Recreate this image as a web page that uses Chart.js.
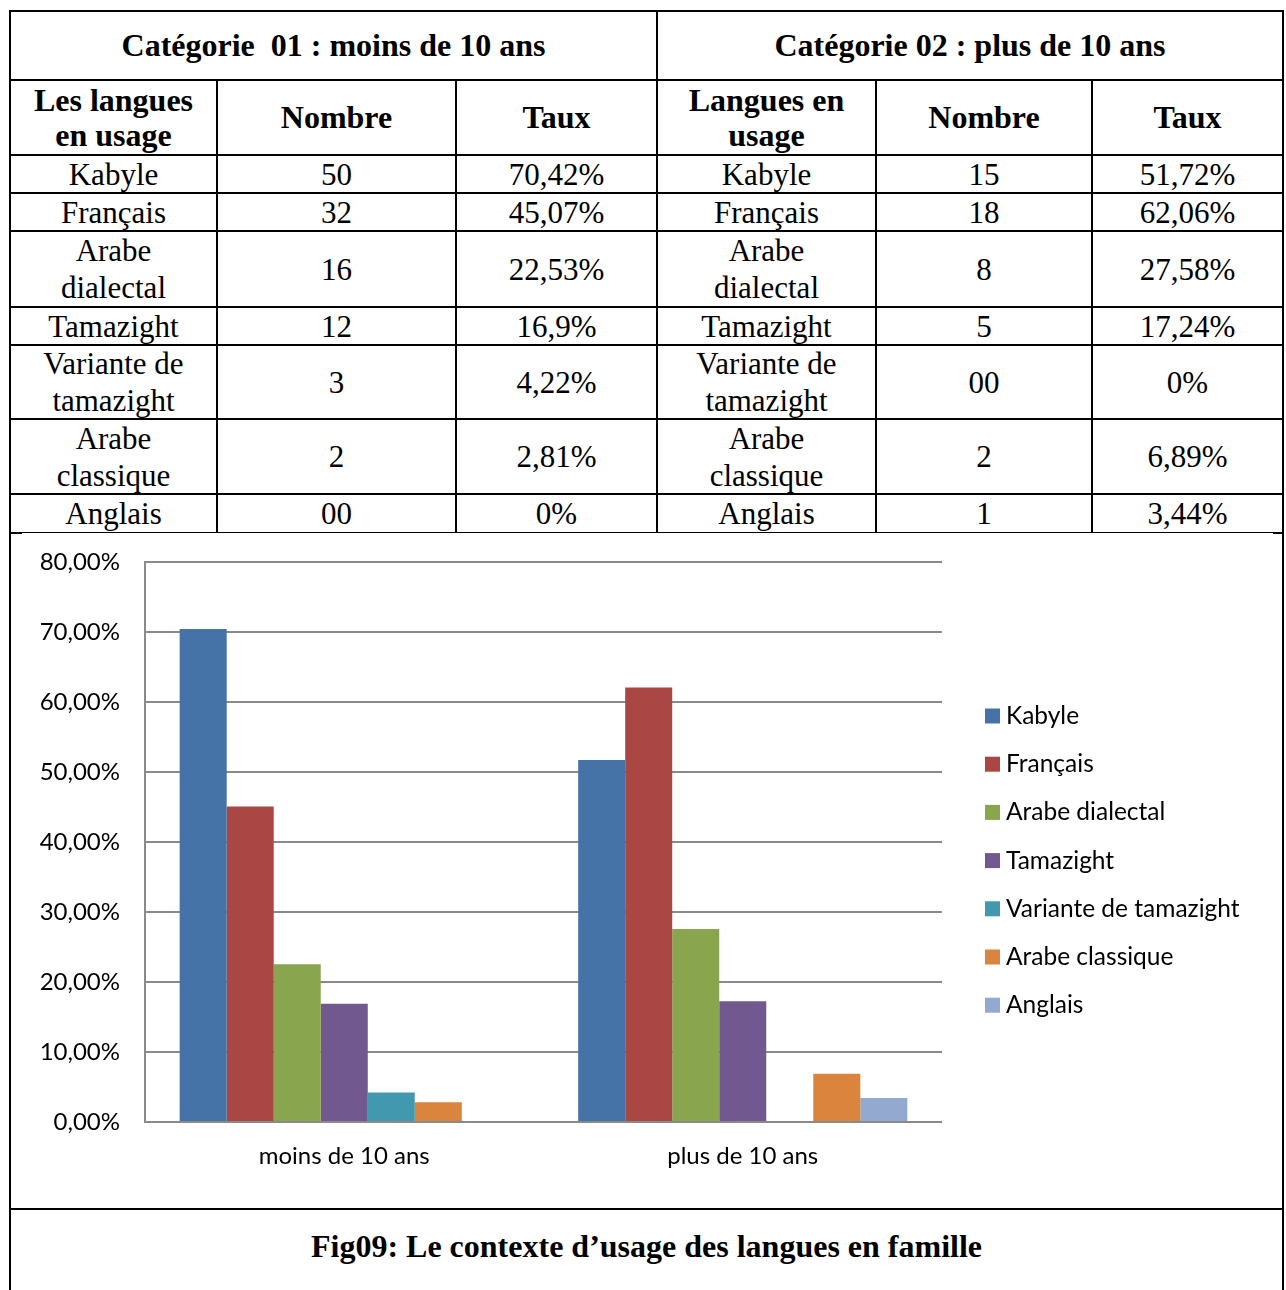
<!DOCTYPE html>
<html lang="fr">
<head>
<meta charset="utf-8">
<title>Fig09: Le contexte d’usage des langues en famille</title>
<script src="https://cdn.jsdelivr.net/npm/chart.js@4/dist/chart.umd.min.js"></script>
<style>
  html, body { margin: 0; padding: 0; background: #fff; }
  body { width: 1286px; height: 1290px; position: relative; overflow: hidden; }
  .ligne { position: absolute; background: #000; }
  .cellule {
    position: absolute; display: flex; align-items: center; justify-content: center;
    text-align: center; font-family: "Liberation Serif", "Times New Roman", serif;
    font-size: 31px; line-height: 37px; color: #000; white-space: pre-wrap;
  }
  .gras { font-weight: bold; font-size: 32px; line-height: 35px; }
  #graphique { position: absolute; left: 12px; top: 534px; }
  #legende-fig {
    position: absolute; left: 10px; top: 1210px; width: 1273px; height: 72px;
    display: flex; align-items: center; justify-content: center;
    font-family: "Liberation Serif", "Times New Roman", serif; font-weight: bold; font-size: 32px; color: #000;
  }
</style>
</head>
<body>
<canvas id="graphique" width="1270" height="674"></canvas>
<div id="legende-fig">Fig09: Le contexte d’usage des langues en famille</div>
<script>
// Langues recensées (ordre des lignes du tableau et des séries du graphique)
const langues = ['Kabyle', 'Français', 'Arabe dialectal', 'Tamazight', 'Variante de tamazight', 'Arabe classique', 'Anglais'];
// Libellés tels qu'ils sont coupés dans les cellules du tableau
const languesTableau = ['Kabyle', 'Français', 'Arabe\ndialectal', 'Tamazight', 'Variante de\ntamazight', 'Arabe\nclassique', 'Anglais'];

// Catégories d'âge
const categories = ['moins de 10 ans', 'plus de 10 ans'];
const titresCategories = ['Catégorie  01 : moins de 10 ans', 'Catégorie 02 : plus de 10 ans'];
const entetesColonnes1 = ['Les langues\nen usage', 'Nombre', 'Taux'];
const entetesColonnes2 = ['Langues en\nusage', 'Nombre', 'Taux'];

// Effectifs et taux (%) par catégorie
const nombreMoins10 = [50, 32, 16, 12, 3, 2, 0];
const tauxMoins10 = [70.42, 45.07, 22.53, 16.9, 4.22, 2.81, 0];
const nombrePlus10 = [15, 18, 8, 5, 0, 2, 1];
const tauxPlus10 = [51.72, 62.06, 27.58, 17.24, 0, 6.89, 3.44];

// Graduations de l'axe des taux
const axeTauxMax = 80;
const axeTauxPas = 10;

const couleurs = ['#4572A7', '#AA4643', '#89A54E', '#71588F', '#4198AF', '#DB843D', '#93A9CF'];

// ---------- Tableau ----------
const formatNombre = n => (n === 0 ? '00' : String(n));
const formatTaux = t => String(t).replace('.', ',') + '%';

const colX = [10, 217, 456, 657, 876, 1092, 1283];
const ligneY = [11, 80, 155, 193, 231, 307, 345, 419, 494, 532];

function trait(x, y, w, h) {
  const d = document.createElement('div');
  d.className = 'ligne';
  d.style.left = x + 'px'; d.style.top = y + 'px';
  d.style.width = w + 'px'; d.style.height = h + 'px';
  document.body.appendChild(d);
}
function cellule(x0, x1, y0, y1, texte, gras) {
  const d = document.createElement('div');
  d.className = 'cellule' + (gras ? ' gras' : '');
  d.style.left = x0 + 'px'; d.style.top = y0 + 'px';
  d.style.width = (x1 - x0) + 'px'; d.style.height = (y1 - y0) + 'px';
  d.textContent = texte;
  document.body.appendChild(d);
}

// en-têtes de catégorie
cellule(colX[0], colX[3], ligneY[0], ligneY[1], titresCategories[0], true);
cellule(colX[3], colX[6], ligneY[0], ligneY[1], titresCategories[1], true);
// en-têtes de colonnes
entetesColonnes1.forEach((t, j) => cellule(colX[j], colX[j + 1], ligneY[1], ligneY[2], t, true));
entetesColonnes2.forEach((t, j) => cellule(colX[j + 3], colX[j + 4], ligneY[1], ligneY[2], t, true));
// lignes de données
languesTableau.forEach((lang, i) => {
  const y0 = ligneY[i + 2], y1 = ligneY[i + 3];
  const valeurs = [lang, formatNombre(nombreMoins10[i]), formatTaux(tauxMoins10[i]),
                   lang, formatNombre(nombrePlus10[i]), formatTaux(tauxPlus10[i])];
  valeurs.forEach((v, j) => cellule(colX[j], colX[j + 1], y0, y1, v, false));
});

// traits horizontaux
ligneY.forEach((y, k) => {
  if (k === ligneY.length - 1) {
    trait(colX[0], y, colX[6] - colX[0] + 1, 1);
    trait(colX[0], y, 12, 2);
    trait(colX[6] - 10, y, 11, 2);
  } else {
    trait(colX[0] - 1, y - 1, colX[6] - colX[0] + 2, 2);
  }
});
// traits verticaux du tableau
colX.forEach((x, k) => {
  const yDebut = (k === 0 || k === 3 || k === 6) ? ligneY[0] : ligneY[1];
  trait(x - 1, yDebut - 1, 2, ligneY[ligneY.length - 1] - yDebut + 1);
});
// cadre du graphique et de la légende de figure
trait(colX[0] - 1, ligneY[ligneY.length - 1], 2, 1290 - ligneY[ligneY.length - 1]);
trait(colX[6] - 1, ligneY[ligneY.length - 1], 2, 1290 - ligneY[ligneY.length - 1]);
trait(colX[0] - 1, 1208, colX[6] - colX[0] + 2, 2);

// ---------- Graphique ----------
const policeAxe = { family: 'Lato, "Open Sans", sans-serif', size: 24 };

const legendeLaterale = {
  id: 'legendeLaterale',
  afterDraw(chart) {
    const { ctx, chartArea } = chart;
    ctx.save();
    ctx.font = '24.5px Lato, "Open Sans", sans-serif';
    ctx.textBaseline = 'middle';
    ctx.textAlign = 'left';
    chart.data.datasets.forEach((ds, i) => {
      const cy = chartArea.top + 154 + i * 48.2;
      const x = chartArea.right + 43;
      ctx.fillStyle = ds.backgroundColor;
      ctx.fillRect(x, cy - 7.5, 15, 15);
      ctx.fillStyle = '#000';
      ctx.fillText(ds.label, x + 21, cy);
    });
    ctx.restore();
  }
};

new Chart(document.getElementById('graphique'), {
  type: 'bar',
  data: {
    labels: categories,
    datasets: langues.map((lang, i) => ({
      label: lang,
      data: [tauxMoins10[i], tauxPlus10[i]],
      backgroundColor: couleurs[i],
      borderWidth: 0
    }))
  },
  options: {
    responsive: false,
    animation: false,
    layout: { padding: { left: 0, right: 340, top: 28, bottom: 0 } },
    datasets: { bar: { categoryPercentage: 0.826, barPercentage: 1 } },
    plugins: { legend: { display: false }, tooltip: { enabled: false } },
    scales: {
      x: {
        grid: { display: false, drawTicks: false },
        border: { display: false },
        ticks: { font: policeAxe, color: '#000', padding: 20 },
        afterFit(scale) {
          scale.height = 86;
          scale.paddingLeft = 0; scale.paddingRight = 0;
        }
      },
      y: {
        min: 0,
        max: axeTauxMax,
        ticks: {
          stepSize: axeTauxPas,
          font: policeAxe,
          color: '#000',
          padding: 25,
          callback: v => v.toFixed(2).replace('.', ',') + '%'
        },
        grid: { color: '#8a8a8a', lineWidth: 2, drawTicks: false },
        border: { color: '#8a8a8a', width: 2 },
        afterFit(scale) {
          scale.width = 133;
          scale.paddingTop = 0; scale.paddingBottom = 0;
        }
      }
    }
  },
  plugins: [legendeLaterale]
});
</script>
</body>
</html>
